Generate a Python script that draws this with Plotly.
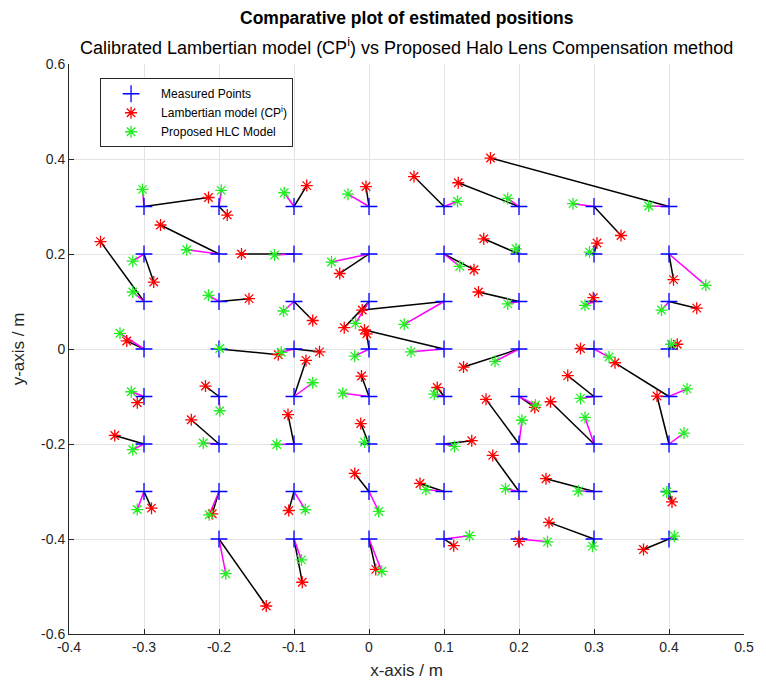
import plotly.graph_objects as go

# Measured reference grid positions (m)
meas_x = [-0.3, -0.2, -0.1, 0.0, 0.1, 0.2, 0.3, 0.4,
          -0.3, -0.2, -0.1, 0.0, 0.1, 0.2, 0.3, 0.4,
          -0.3, -0.2, -0.1, 0.0, 0.1, 0.2, 0.3, 0.4,
          -0.3, -0.2, -0.1, 0.0, 0.1, 0.2, 0.3, 0.4,
          -0.3, -0.2, -0.1, 0.0, 0.1, 0.2, 0.3, 0.4,
          -0.3, -0.2, -0.1, 0.0, 0.1, 0.2, 0.3, 0.4,
          -0.3, -0.2, -0.1, 0.0, 0.1, 0.2, 0.3, 0.4,
          -0.2, -0.1, 0.0, 0.1, 0.2, 0.3, 0.4]
meas_y = [0.3] * 8 + [0.2] * 8 + [0.1] * 8 + [0.0] * 8 + \
         [-0.1] * 8 + [-0.2] * 8 + [-0.3] * 8 + [-0.4] * 7

# Calibrated Lambertian model estimates (CP^i)
lamb_x = [-0.214, -0.189, -0.083, -0.004, 0.060, 0.119, 0.336, 0.162,
          -0.287, -0.278, -0.170, -0.039, 0.140, 0.153, 0.304, 0.406,
          -0.358, -0.160, -0.075, -0.033, -0.009, 0.146, 0.299, 0.437,
          -0.323, -0.121, -0.066, -0.003, -0.006, 0.126, 0.282, 0.411,
          -0.309, -0.218, -0.084, -0.010, 0.091, 0.221, 0.265, 0.328,
          -0.339, -0.237, -0.108, -0.011, 0.137, 0.156, 0.242, 0.384,
          -0.290, -0.209, -0.107, -0.019, 0.068, 0.165, 0.236, 0.404,
          -0.137, -0.089, 0.009, 0.113, 0.200, 0.240, 0.366]
lamb_y = [0.319, 0.282, 0.344, 0.342, 0.363, 0.350, 0.239, 0.402,
          0.141, 0.261, 0.200, 0.159, 0.167, 0.232, 0.223, 0.146,
          0.226, 0.106, 0.060, 0.045, 0.082, 0.120, 0.108, 0.086,
          0.017, -0.012, -0.006, 0.032, 0.040, -0.038, 0.001, 0.010,
          -0.113, -0.078, -0.024, -0.057, -0.081, -0.123, -0.056, -0.029,
          -0.182, -0.149, -0.138, -0.157, -0.193, -0.106, -0.111, -0.099,
          -0.335, -0.347, -0.340, -0.262, -0.283, -0.224, -0.273, -0.322,
          -0.541, -0.491, -0.464, -0.414, -0.405, -0.365, -0.422]

# Proposed HLC model estimates
hlc_x = [-0.302, -0.197, -0.113, -0.028, 0.118, 0.185, 0.272, 0.373,
         -0.315, -0.243, -0.126, -0.050, 0.121, 0.196, 0.294, 0.449,
         -0.315, -0.214, -0.114, -0.018, 0.047, 0.185, 0.288, 0.390,
         -0.332, -0.199, -0.117, -0.019, 0.056, 0.168, 0.320, 0.403,
         -0.317, -0.199, -0.075, -0.035, 0.087, 0.222, 0.282, 0.424,
         -0.315, -0.221, -0.123, -0.006, 0.114, 0.204, 0.288, 0.420,
         -0.309, -0.213, -0.085, 0.013, 0.076, 0.182, 0.279, 0.397,
         -0.191, -0.090, 0.017, 0.134, 0.238, 0.298, 0.407]
hlc_y = [0.336, 0.334, 0.329, 0.326, 0.311, 0.317, 0.306, 0.301,
         0.185, 0.209, 0.198, 0.183, 0.174, 0.211, 0.204, 0.134,
         0.120, 0.113, 0.080, 0.054, 0.052, 0.095, 0.092, 0.082,
         0.033, 0.001, -0.007, -0.015, -0.006, -0.026, -0.017, 0.010,
         -0.090, -0.130, -0.071, -0.093, -0.095, -0.118, -0.104, -0.084,
         -0.212, -0.198, -0.201, -0.196, -0.205, -0.150, -0.144, -0.177,
         -0.338, -0.349, -0.338, -0.342, -0.296, -0.294, -0.299, -0.301,
         -0.473, -0.444, -0.468, -0.393, -0.406, -0.415, -0.394]

# Axis tick values and labels
x_ticks = [-0.4, -0.3, -0.2, -0.1, 0.0, 0.1, 0.2, 0.3, 0.4, 0.5]
x_tick_labels = ["-0.4", "-0.3", "-0.2", "-0.1", "0", "0.1", "0.2", "0.3", "0.4", "0.5"]
y_ticks = [-0.6, -0.4, -0.2, 0.0, 0.2, 0.4, 0.6]
y_tick_labels = ["-0.6", "-0.4", "-0.2", "0", "0.2", "0.4", "0.6"]


def segments(x0, y0, x1, y1):
    xs, ys = [], []
    for a, b, c, d in zip(x0, y0, x1, y1):
        xs += [a, c, None]
        ys += [b, d, None]
    return xs, ys


FONT = "Liberation Sans, Arial, Helvetica, sans-serif"
TXT = "#262626"
BLUE = "#0000ff"
RED = "#ff0000"
GREEN = "#22ee22"
MAGENTA = "#ff00ff"

fig = go.Figure()

lx, ly = segments(meas_x, meas_y, lamb_x, lamb_y)
hx, hy = segments(meas_x, meas_y, hlc_x, hlc_y)

fig.add_trace(go.Scatter(x=lx, y=ly, mode="lines", showlegend=False,
                         line=dict(color="black", width=1.5), hoverinfo="skip"))
fig.add_trace(go.Scatter(x=hx, y=hy, mode="lines", showlegend=False,
                         line=dict(color=MAGENTA, width=1.5), hoverinfo="skip"))

fig.add_trace(go.Scatter(
    x=meas_x, y=meas_y, mode="markers", name="Measured Points",
    marker=dict(symbol="cross-thin", size=12, color=BLUE,
                line=dict(color=BLUE, width=1.3))))
fig.add_trace(go.Scatter(
    x=lamb_x, y=lamb_y, mode="markers", name="Lambertian model (CP<sup>i</sup>)",
    marker=dict(symbol="asterisk-open", size=10, color=RED,
                line=dict(color=RED, width=1.3))))
fig.add_trace(go.Scatter(
    x=hlc_x, y=hlc_y, mode="markers", name="Proposed HLC Model",
    marker=dict(symbol="asterisk-open", size=10, color=GREEN,
                line=dict(color=GREEN, width=1.3))))

fig.add_annotation(text="<b>Comparative plot of estimated positions</b>",
                   xref="paper", yref="paper", x=0.5, y=1.0, yshift=46,
                   showarrow=False, font=dict(family=FONT, size=17.5, color="black"),
                   xanchor="center", yanchor="middle")
fig.add_annotation(text="Calibrated Lambertian model (CP<sup>i</sup>) vs Proposed Halo Lens Compensation method",
                   xref="paper", yref="paper", x=0.5, y=1.0, yshift=18,
                   showarrow=False, font=dict(family=FONT, size=18, color="black"),
                   xanchor="center", yanchor="middle")

fig.update_layout(
    width=766, height=689,
    margin=dict(l=69, r=16, t=64, b=51),
    paper_bgcolor="white", plot_bgcolor="white",
    font=dict(family=FONT, color=TXT),
    legend=dict(x=0.046, y=0.975, xanchor="left", yanchor="top",
                bgcolor="white", bordercolor=TXT, borderwidth=1,
                font=dict(family=FONT, size=12, color="black"),
                itemwidth=50, tracegroupgap=2,
                entrywidth=160),
    xaxis=dict(range=[-0.4, 0.5], tickvals=x_ticks, ticktext=x_tick_labels,
               showgrid=True, gridcolor="#e3e3e3", gridwidth=1, zeroline=False,
               showline=True, linecolor=TXT, linewidth=1,
               ticks="inside", ticklen=5, tickcolor=TXT,
               tickfont=dict(size=14, color=TXT),
               title=dict(text="x-axis / m", font=dict(size=17, color=TXT), standoff=10)),
    yaxis=dict(range=[-0.6, 0.6], tickvals=y_ticks, ticktext=y_tick_labels,
               showgrid=True, gridcolor="#e3e3e3", gridwidth=1, zeroline=False,
               showline=True, linecolor=TXT, linewidth=1,
               ticks="inside", ticklen=5, tickcolor=TXT,
               tickfont=dict(size=14, color=TXT),
               title=dict(text="y-axis / m", font=dict(size=17, color=TXT), standoff=12)),
)

fig.write_html("out.html")
